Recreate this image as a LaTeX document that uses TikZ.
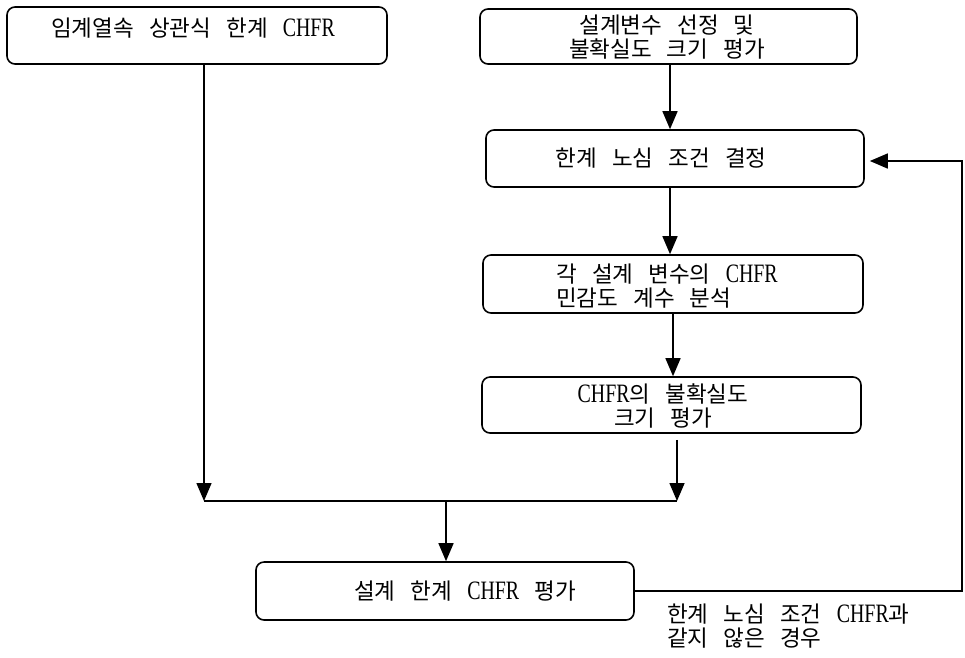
\documentclass[tikz,border=0pt]{standalone}
\usepackage{fontspec}
\newfontfamily\kr[WordSpace=3]{Noto Sans CJK KR}
\newfontfamily\lat[Scale=1.18,FakeStretch=0.75]{Liberation Serif}
\newcommand\chfrtxt{{\lat CHFR}}
\usetikzlibrary{arrows.meta}
\begin{document}
\begin{tikzpicture}[x=1pt,y=-1pt,
  box/.style={draw,line width=1.6pt,rounded corners=8pt,inner sep=0pt},
  txt/.style={font=\kr\fontsize{22.5}{24}\selectfont,inner sep=0pt,align=center},
  ln/.style={line width=1.5pt},
  arr/.style={ln,-{Triangle[width=15pt,length=18pt]}}]
\useasboundingbox (0,0) rectangle (965,657);
% boxes
\node[box,minimum width=380pt,minimum height=57pt] (b1) at (197,35.5) {};
\node[box,minimum width=377pt,minimum height=55pt] (b2) at (668.5,36.5) {};
\node[box,minimum width=378pt,minimum height=57pt] (b3) at (675,158.5) {};
\node[box,minimum width=380pt,minimum height=58pt] (b4) at (673,284) {};
\node[box,minimum width=379pt,minimum height=56pt] (b5) at (671.5,405) {};
\node[box,minimum width=378pt,minimum height=58pt] (b6) at (445,591) {};
% texts
\node[txt] (t1) at (193,28) {임계열속 상관식 한계 \chfrtxt};
\node[txt] (t2) at (667,37) {설계변수 선정 및\\불확실도 크기 평가};
\node[txt] (t3) at (661,158) {한계 노심 조건 결정};
\node[txt,align=left,anchor=west] (t4) at (556,286) {각 설계 변수의 \chfrtxt\\민감도 계수 분석};
\node[txt] (t5) at (663,406) {\chfrtxt 의 불확실도\\크기 평가};
\node[txt] (t6) at (465,591) {설계 한계 \chfrtxt\ 평가};
\node[txt,align=left,anchor=north west] (t7) at (667,604) {한계 노심 조건 \chfrtxt 과\\같지 않은 경우};
% junctions
\coordinate (j1) at (204,501);
\coordinate (j2) at (677,501);
\coordinate (j3) at (446,501);
\coordinate (fb) at (962,0);
% connectors
\draw[arr] ([xshift=1.5pt]b2.south) -- ([xshift=1.5pt]b2.south |- b3.north);
\draw[arr] ([xshift=-5pt]b3.south) -- ([xshift=-5pt]b3.south |- b4.north);
\draw[arr] (b4.south) -- (b4.south |- b5.north);
\draw[arr] (b1.south -| j1) -- (j1);
\draw[arr] ([yshift=-6pt]b5.south -| j2) -- (j2);
\draw[ln] (j1) -- (j2);
\draw[arr] (j3) -- (j3 |- b6.north);
\draw[arr] (b6.east) -- (b6.east -| fb) -- ([yshift=-2.5pt]fb |- b3.east) -- ([xshift=5pt,yshift=-2.5pt]b3.east);
\end{tikzpicture}
\end{document}
